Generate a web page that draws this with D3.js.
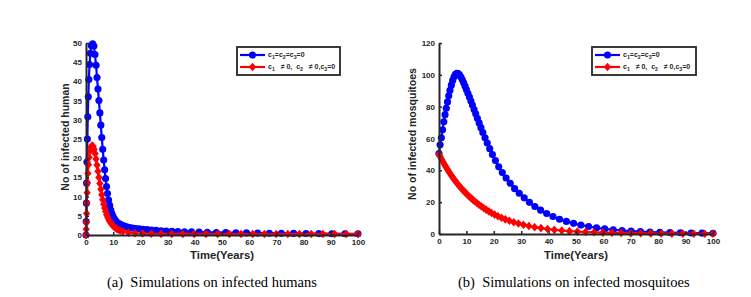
<!DOCTYPE html>
<html>
<head>
<meta charset="utf-8">
<script src="https://cdn.jsdelivr.net/npm/d3@7"></script>
<style>
  body { margin: 0; background: #fff; }
  svg { display: block; }
  .tick text { font-family: "Liberation Sans", Arial, sans-serif; font-weight: bold; font-size: 8px; fill: #262626; }
  text { white-space: pre; }
</style>
</head>
<body>
<svg id="chart" width="751" height="297"></svg>
<script>
// (a) infected humans
const humanBlueT = [0,0.08,0.16,0.25,0.35,0.5,0.65,0.85,1.05,1.3,1.6,2.0,2.45,2.9,3.3,3.7,4.05,4.4,4.75,5.1,5.45,5.8,6.15,6.5,6.85,7.2,7.55,7.9,8.3,8.7,9.1,9.5,9.95,10.4,10.9,11.4,12,12.6,13.3,14.1,15,16,17.1,18.3,19.6,21,22.5,24.1,25.8,27.6,29.5,31.6,33.8,36.2,38.8,41.6,44.6,47.9,51.4,55.1,59,63.1,67.4,71.8,76.3,80.9,85.6,90.4,95.2,100]
const humanBlueV = [0,3.5,8.3,13.5,19,25,30.8,36,40.5,44.4,47.3,49.3,49.8,49.2,47,44.2,41,38,35,31.8,28.6,25.4,22.3,19.5,17,14.7,12.6,10.8,9.1,7.7,6.5,5.6,4.8,4.2,3.7,3.3,3.0,2.75,2.5,2.3,2.1,1.95,1.8,1.7,1.6,1.5,1.4,1.3,1.2,1.12,1.05,0.98,0.92,0.86,0.8,0.75,0.7,0.66,0.62,0.58,0.54,0.5,0.47,0.44,0.41,0.38,0.36,0.34,0.32,0.3]
const humanRedT = [0,0.06,0.12,0.2,0.3,0.42,0.55,0.7,0.9,1.15,1.45,1.8,2.2,2.6,3.0,3.35,3.7,4.05,4.4,4.75,5.1,5.45,5.8,6.15,6.5,6.85,7.2,7.6,8.0,8.4,8.8,9.25,9.7,10.2,10.7,11.3,11.9,12.6,13.6,15.6,18,20.8,24,27.6,31.5,35.6,39.8,44.1,48.4,52.7,57,61.3,65.6,69.9,74.2,78.5,82.8,87.1,91.4,95.7,100]
const humanRedV = [0,1.5,3.3,5.6,8.4,11,13.6,16,18.3,20.2,21.8,22.8,23.3,23.1,22.3,21.2,19.8,18.2,16.6,15,13.4,11.9,10.5,9.2,8,7,6.1,5.3,4.6,4.0,3.5,3.0,2.6,2.2,1.9,1.6,1.35,1.15,0.9,0.62,0.45,0.37,0.32,0.3,0.28,0.27,0.27,0.26,0.26,0.25,0.25,0.25,0.25,0.25,0.25,0.25,0.25,0.25,0.25,0.25,0.25]

// (b) infected mosquitoes
const mosqBlueT = [0,0.4,0.85,1.3,1.75,2.2,2.65,3.1,3.55,4.0,4.5,5.0,5.5,6.0,6.5,7.0,7.5,8.0,8.5,9.0,9.5,10.0,10.55,11.1,11.65,12.2,12.8,13.4,14.0,14.65,15.3,16.0,16.8,17.6,18.5,19.5,20.6,21.8,23.1,24.5,26.0,27.6,29.3,31.1,33.0,35.0,37.1,39.3,41.6,44.0,46.5,49.1,51.8,54.6,57.5,60.5,63.6,66.8,70.1,73.5,77,80.6,84.3,88.1,92,96,100]
const mosqBlueV = [50.5,56,60.5,65.5,70.5,75,79,83,86.8,90.2,93.5,96.5,98.8,100.3,101,100.8,100,98.6,96.9,95,93,90.8,88.4,86,83.5,81,78.2,75.5,72.7,69.8,66.8,63.8,60.5,57.2,53.6,49.9,46.1,42.2,38.6,35.2,31.9,28.5,25.6,22.7,19.9,17.3,15,12.9,11,9.3,7.9,6.7,5.6,4.7,3.9,3.2,2.65,2.2,1.8,1.5,1.25,1.05,0.9,0.75,0.62,0.52,0.45]
const mosqRedT = [0,0.5,1,1.5,2,2.5,3,3.5,4,4.5,5,5.5,6,6.6,7.2,7.8,8.4,9,9.6,10.2,10.9,11.6,12.3,13,13.8,14.6,15.4,16.3,17.2,18.2,19.2,20.3,21.5,22.8,24.2,25.7,27.3,29,30.8,32.8,34.9,37.2,39.6,42.1,44.8,47.6,50.5,53.5,56.6,59.8,63.1,66.5,70,73.6,77.3,81.1,85,89,93,97,100]
const mosqRedV = [50,48.4,46.8,45.2,43.7,42.2,40.8,39.4,38.1,36.8,35.6,34.4,33.2,31.9,30.6,29.4,28.2,27.1,26.0,25.0,23.8,22.7,21.6,20.6,19.5,18.4,17.4,16.3,15.3,14.2,13.2,12.2,11.2,10.2,9.2,8.3,7.4,6.6,5.8,5.0,4.3,3.7,3.1,2.6,2.2,1.8,1.5,1.25,1.05,0.88,0.74,0.62,0.52,0.44,0.37,0.31,0.26,0.22,0.19,0.17,0.15]

const xTicks = [0,10,20,30,40,50,60,70,80,90,100]
const humanYTicks = [0,5,10,15,20,25,30,35,40,45,50]
const mosqYTicks = [0,20,40,60,80,100,120]

const svg = d3.select("#chart")
const font = "'Liberation Sans', Arial, sans-serif"

// MATLAB-ish diamond marker
const diamond = {
  draw(ctx, size) {
    const h = Math.sqrt(size) * 0.62, w = h * 0.85
    ctx.moveTo(0, -h); ctx.lineTo(w, 0); ctx.lineTo(0, h); ctx.lineTo(-w, 0); ctx.closePath()
  }
}

function panel(p) {
  const x = d3.scaleLinear().domain([0, 100]).range(p.xr)
  const y = d3.scaleLinear().domain([0, p.ymax]).range(p.yr)
  const g = svg.append("g")

  const series = [
    {t: p.blueT, v: p.blueV, color: "#0000ff", sym: d3.symbolCircle, size: 40},
    {t: p.redT, v: p.redV, color: "#ff0000", sym: diamond, size: 48}
  ]
  series.forEach(s => {
    const pts = s.t.map((t, i) => [t, s.v[i]])
    g.append("path")
      .datum(pts)
      .attr("fill", "none")
      .attr("stroke", s.color)
      .attr("stroke-width", 2.2)
      .attr("d", d3.line().x(d => x(d[0])).y(d => y(d[1])))
    g.selectAll(null).data(pts).join("path")
      .attr("transform", d => `translate(${x(d[0])},${y(d[1])})`)
      .attr("d", d3.symbol(s.sym, s.size))
      .attr("fill", s.color)
  })

  const xa = g.append("g")
    .attr("transform", `translate(0,${p.yr[0]})`)
    .call(d3.axisBottom(x).tickValues(xTicks).tickSizeInner(-3).tickSizeOuter(0).tickPadding(4))
  const ya = g.append("g")
    .attr("transform", `translate(${p.xr[0]},0)`)
    .call(d3.axisLeft(y).tickValues(p.yTicks).tickSizeInner(-3).tickSizeOuter(0).tickPadding(4))
  ;[xa, ya].forEach(a => {
    a.select(".domain").attr("stroke", "#262626").attr("stroke-width", 2)
    a.selectAll(".tick line").attr("stroke", "#262626").attr("stroke-width", 1.5)
  })

  g.append("text")
    .attr("x", d3.mean(p.xr)).attr("y", 259)
    .attr("text-anchor", "middle")
    .attr("font-family", font).attr("font-weight", "bold").attr("font-size", 11.3)
    .attr("fill", "#262626")
    .text("Time(Years)")
  g.append("text")
    .attr("transform", `translate(${p.ylx},${p.yly}) rotate(-90)`)
    .attr("text-anchor", "middle")
    .attr("dy", "0.35em")
    .attr("font-family", font).attr("font-weight", "bold").attr("font-size", p.ylSize)
    .attr("fill", "#262626")
    .text(p.ylabel)

  // legend
  const L = g.append("g").attr("transform", `translate(${p.leg[0]},${p.leg[1]})`)
  L.append("rect")
    .attr("width", p.leg[2]).attr("height", 28)
    .attr("fill", "#fff").attr("stroke", "#262626").attr("stroke-width", 1.8)
  series.forEach((s, i) => {
    const ly = 8 + i * 12
    L.append("line").attr("x1", 3).attr("x2", 28).attr("y1", ly).attr("y2", ly)
      .attr("stroke", s.color).attr("stroke-width", 2.2)
    L.append("path").attr("transform", `translate(15.5,${ly})`)
      .attr("d", d3.symbol(s.sym, s.size)).attr("fill", s.color)
  })
  const lt = (row, parts) => {
    const t = L.append("text").attr("x", 31).attr("y", 8 + row * 12).attr("dy", "0.3em")
      .attr("font-family", font).attr("font-weight", "bold").attr("font-size", 7).attr("fill", "#262626")
    parts.forEach(([s, sub]) => {
      const ts = t.append("tspan").text(s)
      if (sub) ts.attr("font-size", 5.2).attr("dy", 1.6)
      else if (t.node().childNodes.length > 1) ts.attr("dy", -1.6)
    })
  }
  lt(0, [["c"], ["1", true], ["=c"], ["2", true], ["=c"], ["3", true], ["=0"]])
  lt(1, [["c"], ["1", true], ["   \u2260 0,  c"], ["2", true], ["   \u2260 0,c"], ["3", true], ["=0"]])

  svg.append("text")
    .attr("x", p.cap).attr("y", 287)
    .attr("font-family", "'Liberation Serif', 'Times New Roman', serif").attr("font-size", 14.5)
    .attr("fill", "#000")
    .text(p.caption)
}

panel({
  xr: [86, 358], yr: [235, 43], ymax: 50, yTicks: humanYTicks,
  blueT: humanBlueT, blueV: humanBlueV, redT: humanRedT, redV: humanRedV,
  ylabel: "No of infected human", ylx: 65, yly: 137, ylSize: 10.5,
  leg: [237, 47, 103], cap: 107, caption: "(a)  Simulations on infected humans"
})
panel({
  xr: [439, 713], yr: [234, 43], ymax: 120, yTicks: mosqYTicks,
  blueT: mosqBlueT, blueV: mosqBlueV, redT: mosqRedT, redV: mosqRedV,
  ylabel: "No of infected mosquitoes", ylx: 412, yly: 134, ylSize: 10.5,
  leg: [592, 47, 104], cap: 458, caption: "(b)  Simulations on infected mosquitoes"
})
</script>
</body>
</html>
